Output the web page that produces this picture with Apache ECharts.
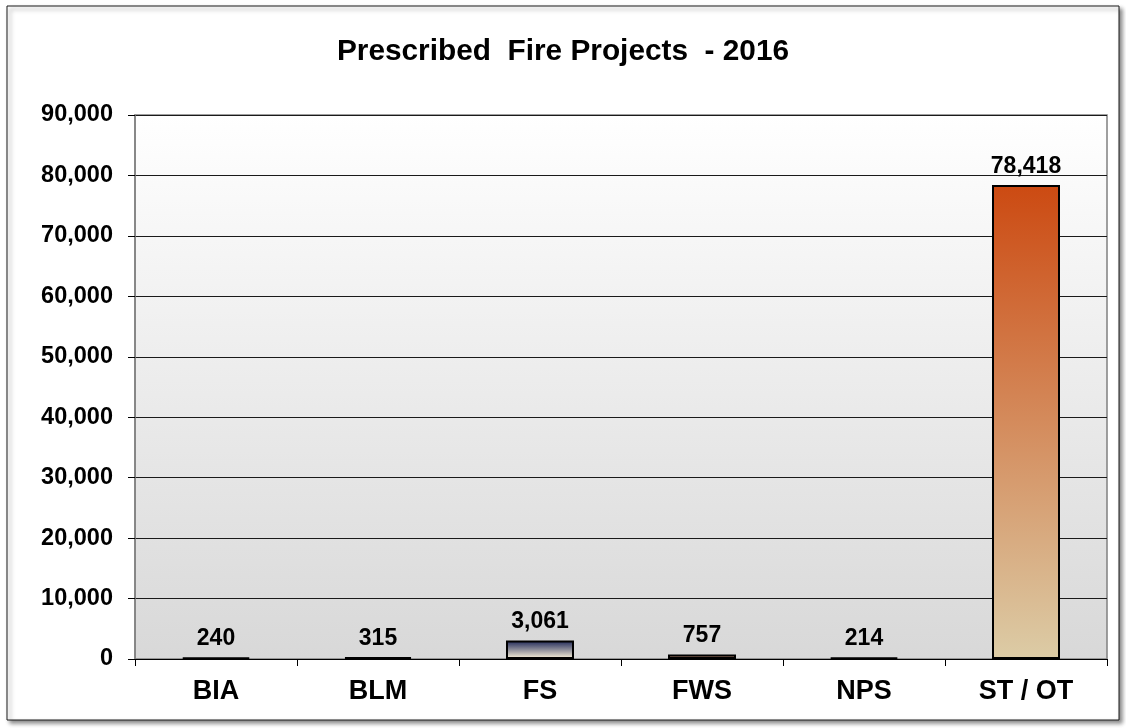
<!DOCTYPE html>
<html>
<head>
<meta charset="utf-8">
<title>Prescribed Fire Projects - 2016</title>
<script src="https://cdn.jsdelivr.net/npm/echarts@6/dist/echarts.min.js"></script>
<style>
  html, body { margin: 0; padding: 0; background: #fff; }
  #chart { width: 1126px; height: 728px; }
</style>
</head>
<body>
<div id="chart"></div>
<script>
// data
var agencies = ['BIA', 'BLM', 'FS', 'FWS', 'NPS', 'ST / OT']
var projects = [240, 315, 3061, 757, 214, 78418]
// top / bottom colours of each bar's gradient
var barTop = ['#111111', '#111111', '#1c2556', '#8e5e4c', '#111111', '#cc4a12']
var barBottom = ['#333333', '#333333', '#fff6dc', '#d0a890', '#333333', '#dccca6']

var yTicks = { min: 0, max: 90000, step: 10000 }
var FONT = 'Arial, "Liberation Sans", sans-serif'

function grad(top, bottom) {
  return new echarts.graphic.LinearGradient(0, 0, 0, 1, [
    { offset: 0, color: top },
    { offset: 1, color: bottom }
  ])
}

function commas(v) {
  return String(v).replace(/\B(?=(\d{3})+(?!\d))/g, ',')
}

var chart = echarts.init(document.getElementById('chart'), null, { renderer: 'canvas' })

chart.setOption({
  animation: false,
  backgroundColor: '#fff',
  textStyle: { fontFamily: FONT },
  graphic: [
    // chart frame with a soft shadow at right / bottom
    {
      type: 'rect',
      z: -10,
      shape: { x: 7, y: 6, width: 1112, height: 714 },
      style: {
        fill: '#fff',
        stroke: '#1a1a1a',
        lineWidth: 1,
        shadowColor: 'rgba(0,0,0,0.45)',
        shadowBlur: 4,
        shadowOffsetX: 3,
        shadowOffsetY: 3
      }
    }
  ],
  title: {
    text: 'Prescribed  Fire Projects  - 2016',
    left: 'center',
    top: 32,
    textStyle: { fontFamily: FONT, fontSize: 29.8, fontWeight: 'bold', color: '#000' }
  },
  grid: {
    left: 135,
    right: 19,
    top: 115,
    bottom: 69,
    show: true,
    borderColor: '#808080',
    borderWidth: 1.5,
    backgroundColor: grad('#ffffff', '#d8d8d8')
  },
  xAxis: {
    type: 'category',
    data: agencies,
    axisLine: { lineStyle: { color: '#000', width: 1 } },
    axisTick: { show: true, length: 7, lineStyle: { color: '#000' } },
    axisLabel: {
      margin: 19,
      fontFamily: FONT,
      fontSize: 27,
      fontWeight: 'bold',
      color: '#000'
    }
  },
  yAxis: {
    type: 'value',
    min: yTicks.min,
    max: yTicks.max,
    interval: yTicks.step,
    axisLine: { show: true, lineStyle: { color: '#808080', width: 1.5 } },
    axisTick: { show: true, length: 7, lineStyle: { color: '#000' } },
    splitLine: { lineStyle: { color: '#1a1a1a', width: 1 } },
    axisLabel: {
      margin: 22,
      fontFamily: FONT,
      fontSize: 23.5,
      fontWeight: 'bold',
      color: '#000',
      formatter: commas
    }
  },
  series: [{
    type: 'bar',
    barWidth: 68,
    data: projects.map(function(v, i) {
      return {
        value: v,
        itemStyle: {
          color: grad(barTop[i], barBottom[i]),
          borderColor: '#000',
          borderWidth: 2
        }
      }
    }),
    label: {
      show: true,
      position: 'top',
      distance: 7,
      fontFamily: FONT,
      fontSize: 23,
      fontWeight: 'bold',
      color: '#000',
      formatter: function(p) { return commas(p.value) }
    }
  }]
})
</script>
</body>
</html>
